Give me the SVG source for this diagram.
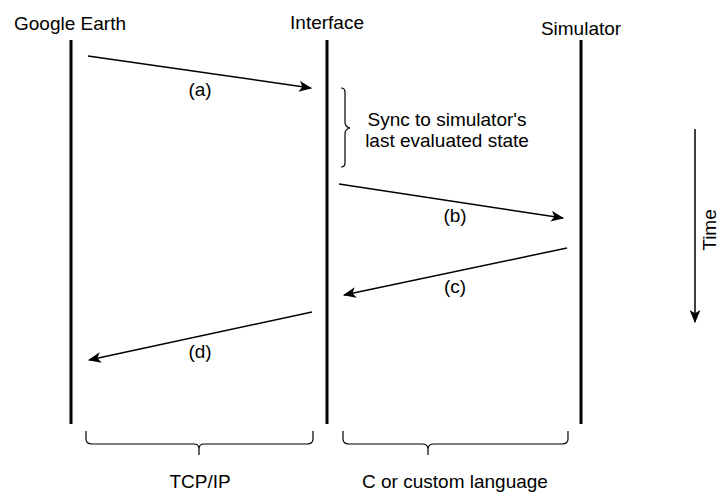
<svg xmlns="http://www.w3.org/2000/svg" width="721" height="493" viewBox="0 0 721 493">
<style>
text{font-family:"Liberation Sans",Arial,sans-serif;font-size:19px;fill:#000}
.life{stroke:#000;stroke-width:3;fill:none}
.msg{stroke:#000;stroke-width:1.5;fill:none;marker-end:url(#ah)}
.brace{stroke:#000;stroke-width:1.2;fill:none}
</style>
<defs>
<marker id="ah" viewBox="0 0 12 10" refX="11" refY="5" markerWidth="13" markerHeight="11" markerUnits="userSpaceOnUse" orient="auto">
<path d="M0,0 L12,5 L0,10 L3,5 Z" fill="#000"/>
</marker>
</defs>
<rect width="721" height="493" fill="#fff"/>
<g id="google-earth">
<text x="70" y="30" text-anchor="middle">Google Earth</text>
<line class="life" x1="71" y1="40" x2="71" y2="424"/>
</g>
<g id="interface">
<text x="327" y="29" text-anchor="middle">Interface</text>
<line class="life" x1="327" y1="40" x2="327" y2="424"/>
</g>
<g id="simulator">
<text x="581" y="35" text-anchor="middle">Simulator</text>
<line class="life" x1="581" y1="40" x2="581" y2="424"/>
</g>
<g id="connectors">
<line class="msg" x1="88" y1="56" x2="311" y2="88"/>
<line class="msg" x1="339" y1="184" x2="563" y2="218"/>
<line class="msg" x1="567" y1="248" x2="344" y2="295"/>
<line class="msg" x1="312" y1="312" x2="89" y2="360"/>
<line class="msg" x1="695" y1="129" x2="695" y2="322"/>
</g>
<g id="labels">
<text x="200" y="96" text-anchor="middle">(a)</text>
<text x="455" y="222" text-anchor="middle">(b)</text>
<text x="455" y="293" text-anchor="middle">(c)</text>
<text x="200" y="358" text-anchor="middle">(d)</text>
<text transform="translate(716,230) rotate(-90)" text-anchor="middle">Time</text>
</g>
<g id="sync-note">
<path class="brace" d="M341,88 Q345,88 345,92 L345,122 Q345,127 350,128 Q345,129 345,134 L345,163 Q345,167 341,167"/>
<text x="447" y="126" text-anchor="middle">Sync to simulator's</text>
<text x="447" y="147" text-anchor="middle">last evaluated state</text>
</g>
<g id="tcp-brace">
<path class="brace" d="M86,431 L86,439 Q86,444 92,444 L194,444 Q199,444 199,449 L199,455 M199,449 Q199,444 204,444 L307,444 Q313,444 313,439 L313,431"/>
<text x="200" y="488" text-anchor="middle">TCP/IP</text>
</g>
<g id="c-brace">
<path class="brace" d="M343,431 L343,439 Q343,444 349,444 L422,444 Q428,444 428,449 L428,455 M428,449 Q428,444 434,444 L562,444 Q568,444 568,439 L568,431"/>
<text x="455" y="488" text-anchor="middle">C or custom language</text>
</g>
</svg>
